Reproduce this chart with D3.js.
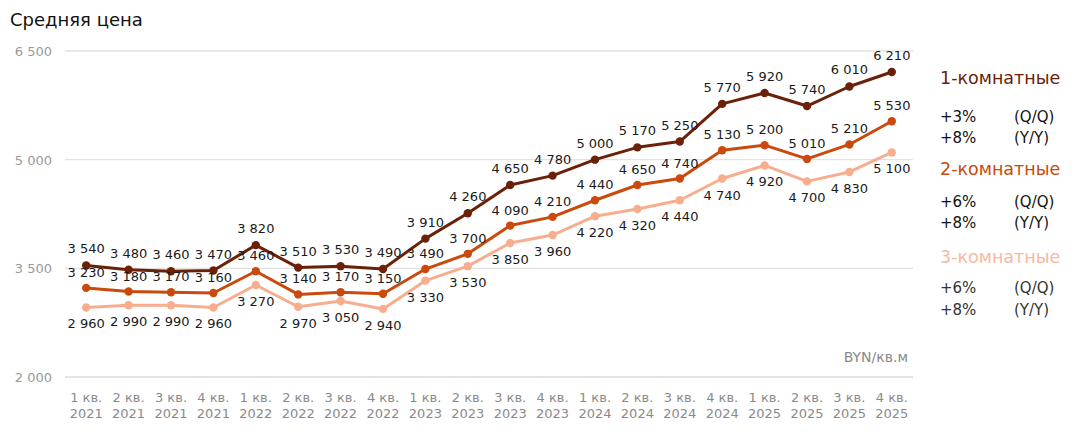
<!DOCTYPE html>
<html><head><meta charset="utf-8">
<script src="https://cdn.jsdelivr.net/npm/d3@7"></script>
<style>
body{margin:0;background:#fff;}
svg text{font-family:"DejaVu Sans",sans-serif;}
</style></head>
<body><svg id="c" width="1074" height="432"></svg>
<script>
const quarters = ["1 кв.","2 кв.","3 кв.","4 кв.","1 кв.","2 кв.","3 кв.","4 кв.","1 кв.","2 кв.","3 кв.","4 кв.","1 кв.","2 кв.","3 кв.","4 кв.","1 кв.","2 кв.","3 кв.","4 кв."];
const years = ["2021","2021","2021","2021","2022","2022","2022","2022","2023","2023","2023","2023","2024","2024","2024","2024","2025","2025","2025","2025"];
const room1 = [3540,3480,3460,3470,3820,3510,3530,3490,3910,4260,4650,4780,5000,5170,5250,5770,5920,5740,6010,6210];
const room2 = [3230,3180,3170,3160,3460,3140,3170,3150,3490,3700,4090,4210,4440,4650,4740,5130,5200,5010,5210,5530];
const room3 = [2960,2990,2990,2960,3270,2970,3050,2940,3330,3530,3850,3960,4220,4320,4440,4740,4920,4700,4830,5100];
const yTicks = [2000,3500,5000,6500];
const seriesNames = ["1-комнатные","2-комнатные","3-комнатные"];
const qq = ["+3%","+6%","+6%"];
const yy = ["+8%","+8%","+8%"];

const colors = ["#6a2108","#c94a0c","#f8ae8e"];
const legendColors = ["#6a2108","#c94a0c","#f7b9a0"];
const svg = d3.select("#c");
const L = 65, R = 913, T = 51, B = 377;
const idx = d3.range(quarters.length);
const x = d3.scaleBand().domain(idx).range([L, R]).paddingInner(0).paddingOuter(0);
const cx = i => x(i) + x.bandwidth()/2;
const y = d3.scaleLinear().domain([2000,6500]).range([B, T]);
const fmtS = v => d3.format(",")(v).replace(/,/g, " ");

// grid
svg.append("g").selectAll("line").data(yTicks).join("line")
  .attr("x1", L).attr("x2", R).attr("y1", d => y(d)).attr("y2", d => y(d))
  .attr("stroke", "#e3e3e3").attr("stroke-width", d => d===2000?2:1.3);
svg.append("g").selectAll("text").data(yTicks).join("text")
  .attr("x", 52).attr("y", d => y(d) + 5).attr("text-anchor","end")
  .attr("font-size", 13).attr("fill","#9a9a9a").text(fmtS);

// x axis labels
const xg = svg.append("g");
xg.selectAll("text.q").data(idx).join("text").attr("class","q")
  .attr("x", cx).attr("y", 402).attr("text-anchor","middle")
  .attr("font-size", 13).attr("fill","#8a8a8a").text(i => quarters[i]);
xg.selectAll("text.y").data(idx).join("text").attr("class","y")
  .attr("x", cx).attr("y", 418).attr("text-anchor","middle")
  .attr("font-size", 13).attr("fill","#8a8a8a").text(i => years[i]);

// title
svg.append("text").attr("x", 10).attr("y", 26).attr("font-size", 18).attr("fill","#111").text("Средняя цена");
svg.append("text").attr("x", 908).attr("y", 362).attr("text-anchor","end").attr("font-size", 14)
  .attr("fill","#8a8a8a").text("BYN/кв.м");

const all = [room1, room2, room3];
const offs = [-12, -11, 21];
const line = d3.line().x((d,i) => cx(i)).y(d => y(d));
[2,1,0].forEach(s => {
  const g = svg.append("g");
  g.append("path").datum(all[s]).attr("d", line).attr("fill","none")
    .attr("stroke", colors[s]).attr("stroke-width", 3).attr("stroke-linejoin","round");
  g.selectAll("circle").data(all[s]).join("circle")
    .attr("cx", (d,i) => cx(i)).attr("cy", d => y(d)).attr("r", 4.2).attr("fill", colors[s]);
});
[0,1,2].forEach(s => {
  svg.append("g").selectAll("text").data(all[s]).join("text")
    .attr("x", (d,i) => cx(i)).attr("y", d => y(d) + offs[s]).attr("text-anchor","middle")
    .attr("font-size", 13).attr("fill","#1a1a1a").text(fmtS);
});

// legend
const lg = svg.append("g");
const rows = [[84,122,143],[175,207,228],[263,293,315]];
seriesNames.forEach((n, s) => {
  const [h, r1, r2] = rows[s];
  lg.append("text").attr("x", 940).attr("y", h).attr("font-size", 17.5).attr("fill", legendColors[s]).text(n);
  const tc = s === 2 ? "#333" : "#111";
  lg.append("text").attr("x", 940).attr("y", r1).attr("font-size", 15).attr("fill", tc).text(qq[s]);
  lg.append("text").attr("x", 1014).attr("y", r1).attr("font-size", 15).attr("fill", tc).text("(Q/Q)");
  lg.append("text").attr("x", 940).attr("y", r2).attr("font-size", 15).attr("fill", tc).text(yy[s]);
  lg.append("text").attr("x", 1014).attr("y", r2).attr("font-size", 15).attr("fill", tc).text("(Y/Y)");
});
</script></body></html>
